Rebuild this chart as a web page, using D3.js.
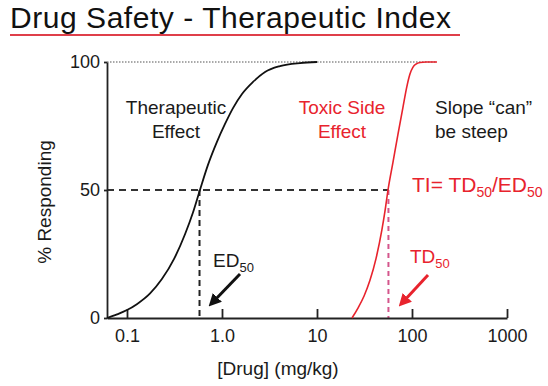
<!DOCTYPE html>
<html>
<head>
<meta charset="utf-8">
<script src="https://cdn.jsdelivr.net/npm/d3@7"></script>
<style>
  body { margin: 0; background: #fff; }
  svg { font-family: "Liberation Sans", Arial, sans-serif; }
</style>
</head>
<body>
<div id="container"></div>
<script>
const width = 548;
const height = 386;

// dose-response readings (dose in mg/kg, % responding)
const effectDose = [0.0616, 0.0785, 0.1, 0.127, 0.175, 0.233, 0.313, 0.408, 0.495, 0.586,
  0.712, 0.885, 1.076, 1.306, 1.624, 2.12, 2.84, 4.08, 6.63, 10];
const effectPct = [0, 1.4, 3.1, 5.4, 9.6, 15.2, 23.1, 32.7, 41.2, 50,
  59.8, 68.8, 75.8, 82, 87.5, 92.2, 96.1, 98.4, 99.6, 100];
const toxicDose = [23.35, 27.0, 31.3, 36.1, 41.8, 48.3, 52.0, 55.9, 63.1, 71.3,
  80.4, 88.5, 95.2, 102.5, 110.3, 121.4, 140.3, 183.3];
const toxicPct = [0, 3.9, 8.6, 14.7, 23.2, 34.6, 41.8, 50, 60.9, 71.9,
  82.4, 90.6, 95.3, 98, 99.2, 99.8, 100, 100];

const xTicks = [0.1, 1, 10, 100, 1000];
const xTickLabels = ["0.1", "1.0", "10", "100", "1000"];
const yTicks = [0, 50, 100];
const ed50 = 0.58;
const td50 = 56.5;

const red = "#e8232d";

const svg = d3.select("#container")
  .append("svg")
  .attr("width", width)
  .attr("height", height);

const x = d3.scaleLog().domain([0.0616, 1000]).range([107, 507]);
const y = d3.scaleLinear().domain([0, 100]).range([318, 62]);

// title
svg.append("text")
  .attr("x", 10).attr("y", 27.5)
  .attr("font-size", 30)
  .attr("textLength", 441)
  .attr("lengthAdjust", "spacing")
  .attr("fill", "#111")
  .text("Drug Safety - Therapeutic Index");

svg.append("line")
  .attr("x1", 10).attr("x2", 460)
  .attr("y1", 35).attr("y2", 35)
  .attr("stroke", "#df3f4a")
  .attr("stroke-width", 2);

// reference lines
svg.append("line")
  .attr("x1", x.range()[0]).attr("x2", x(183))
  .attr("y1", y(100)).attr("y2", y(100))
  .attr("stroke", "#555")
  .attr("stroke-width", 1.2)
  .attr("stroke-dasharray", "1.5,1.5");

svg.append("line")
  .attr("x1", x.range()[0]).attr("x2", x(td50))
  .attr("y1", y(50)).attr("y2", y(50))
  .attr("stroke", "#333")
  .attr("stroke-width", 2)
  .attr("stroke-dasharray", "7,5");

svg.append("line")
  .attr("x1", x(ed50)).attr("x2", x(ed50))
  .attr("y1", y(50)).attr("y2", y(0))
  .attr("stroke", "#222")
  .attr("stroke-width", 2)
  .attr("stroke-dasharray", "6,4");

svg.append("line")
  .attr("x1", x(td50)).attr("x2", x(td50))
  .attr("y1", y(50)).attr("y2", y(0))
  .attr("stroke", "#d4568c")
  .attr("stroke-width", 2)
  .attr("stroke-dasharray", "5,4");

// axes
const xAxis = d3.axisBottom(x)
  .tickValues(xTicks)
  .tickFormat((d, i) => xTickLabels[i])
  .tickSizeInner(-9)
  .tickSizeOuter(0)
  .tickPadding(11);

const gx = svg.append("g")
  .attr("transform", `translate(0,${y(0)})`)
  .call(xAxis);

const yAxis = d3.axisLeft(y)
  .tickValues(yTicks)
  .tickSizeInner(3)
  .tickSizeOuter(0)
  .tickPadding(4);

const gy = svg.append("g")
  .attr("transform", `translate(${x.range()[0]},0)`)
  .call(yAxis);

[gx, gy].forEach(g => {
  g.selectAll("path, line").attr("stroke", "#222").attr("stroke-width", 1.8);
  g.selectAll("text").attr("font-size", 18).attr("fill", "#1a1a1a")
    .attr("font-family", "Liberation Sans, Arial, sans-serif");
});

// curves
const line = d3.line()
  .x(d => x(d[0]))
  .y(d => y(d[1]))
  .curve(d3.curveMonotoneX);

svg.append("path")
  .datum(d3.zip(effectDose, effectPct))
  .attr("d", line)
  .attr("fill", "none")
  .attr("stroke", "#111")
  .attr("stroke-width", 1.8);

svg.append("path")
  .datum(d3.zip(toxicDose, toxicPct))
  .attr("d", line)
  .attr("fill", "none")
  .attr("stroke", red)
  .attr("stroke-width", 1.6);

// axis titles
svg.append("text")
  .attr("transform", "translate(51,202) rotate(-90)")
  .attr("text-anchor", "middle")
  .attr("font-size", 19)
  .attr("fill", "#1a1a1a")
  .text("% Responding");

svg.append("text")
  .attr("x", 278).attr("y", 375)
  .attr("text-anchor", "middle")
  .attr("font-size", 19)
  .attr("fill", "#1a1a1a")
  .text("[Drug] (mg/kg)");

// annotations
function twoLines(cx, lines, color, anchor) {
  const t = svg.append("text")
    .attr("text-anchor", anchor)
    .attr("font-size", 19)
    .attr("fill", color);
  lines.forEach((s, i) => {
    t.append("tspan").attr("x", cx).attr("y", 114 + i * 24).text(s);
  });
}
twoLines(176, ["Therapeutic", "Effect"], "#1a1a1a", "middle");
twoLines(342, ["Toxic Side", "Effect"], red, "middle");
twoLines(435, ["Slope \u201ccan\u201d", "be steep"], "#1a1a1a", "start");

function label(xp, yp, color, size) {
  return svg.append("text")
    .attr("x", xp).attr("y", yp)
    .attr("font-size", size)
    .attr("fill", color);
}

// shrunk a little so the last subscript stays inside the frame
const ti = label(412, 192, red, 21);
ti.append("tspan").text("TI= TD");
ti.append("tspan").attr("font-size", 14).attr("dy", 5).text("50");
ti.append("tspan").attr("dy", -5).text("/ED");
ti.append("tspan").attr("font-size", 14).attr("dy", 5).text("50");

const ed = label(213, 267, "#1a1a1a", 19);
ed.append("tspan").text("ED");
ed.append("tspan").attr("font-size", 13).attr("dy", 5).text("50");

const td = label(410, 263, red, 19);
td.append("tspan").text("TD");
td.append("tspan").attr("font-size", 13).attr("dy", 5).text("50");

// arrows
const defs = svg.append("defs");
[["arrowBlack", "#111"], ["arrowRed", red]].forEach(([id, c]) => {
  defs.append("marker")
    .attr("id", id)
    .attr("viewBox", "0 0 10 10")
    .attr("refX", 5).attr("refY", 5)
    .attr("markerWidth", 4.2).attr("markerHeight", 4.2)
    .attr("orient", "auto")
    .append("path")
    .attr("d", "M0,0 L10,5 L0,10 z")
    .attr("fill", c);
});

svg.append("line")
  .attr("x1", 240).attr("y1", 274)
  .attr("x2", 213).attr("y2", 302)
  .attr("stroke", "#111").attr("stroke-width", 3)
  .attr("marker-end", "url(#arrowBlack)");

svg.append("line")
  .attr("x1", 428).attr("y1", 275)
  .attr("x2", 403).attr("y2", 302)
  .attr("stroke", red).attr("stroke-width", 3)
  .attr("marker-end", "url(#arrowRed)");
</script>
</body>
</html>
